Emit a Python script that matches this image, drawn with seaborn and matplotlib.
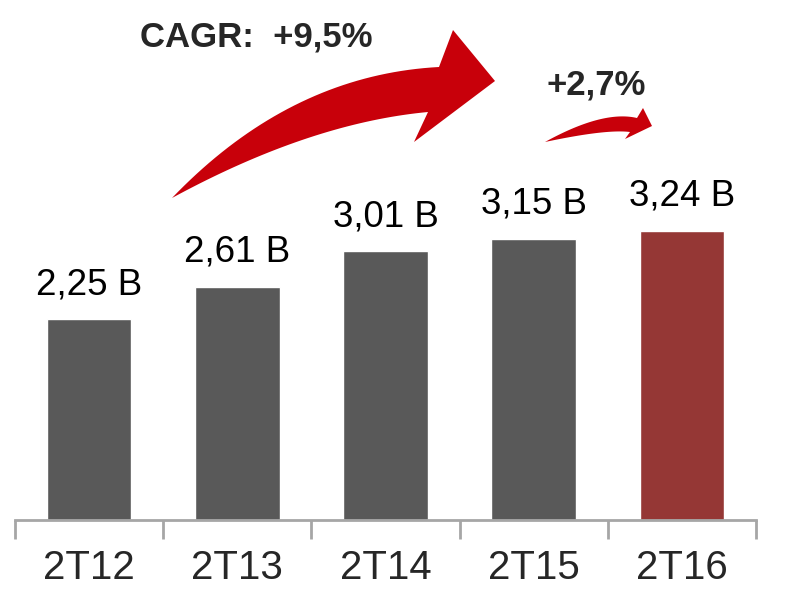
import numpy as np
import pandas as pd
import seaborn as sns
import matplotlib.pyplot as plt
from matplotlib.patches import Polygon
from matplotlib.ticker import FixedLocator

periods = ['2T12', '2T13', '2T14', '2T15', '2T16']
revenue = [2.25, 2.61, 3.01, 3.15, 3.24]
bar_colors = ['#595959', '#595959', '#595959', '#595959', '#953735']
cagr_text = 'CAGR:  +9,5%'
yoy_text = '+2,7%'

sns.set_style('white')
plt.rcParams['font.family'] = ['Liberation Sans', 'DejaVu Sans']

df = pd.DataFrame({'period': periods, 'value': revenue})

fig = plt.figure(figsize=(7.86, 5.94), dpi=100)
ax = fig.add_axes([15 / 786, 74 / 594, 741 / 786, 520 / 594])
sns.barplot(data=df, x='period', y='value', hue='period', palette=bar_colors,
            width=0.57, legend=False, ax=ax, saturation=1)

ax.set_xlim(-0.5, 4.5)
ax.set_ylim(0, 520 / 89.3)
for s in ['left', 'right', 'top']:
    ax.spines[s].set_visible(False)
ax.spines['bottom'].set_color('#a6a6a6')
ax.spines['bottom'].set_linewidth(2)
ax.set_yticks([])
ax.set_xlabel('')
ax.set_ylabel('')
ax.xaxis.set_minor_locator(FixedLocator(np.arange(-0.5, 5, 1)))
ax.tick_params(axis='x', which='minor', length=14, width=2, color='#a6a6a6',
               direction='out', bottom=True)
ax.tick_params(axis='x', which='major', length=0, pad=21)
for lab in ax.get_xticklabels():
    lab.set_fontsize(29)

for i, v in enumerate(revenue):
    ax.text(i, v + 0.28, f'{v:.2f} B'.replace('.', ','), ha='center',
            va='baseline', fontsize=26.5, color='black')

# overlay in pixel coordinates for the growth arrows
ov = fig.add_axes([0, 0, 1, 1], facecolor='none')
ov.set_xlim(0, 786)
ov.set_ylim(594, 0)
ov.axis('off')


def qbez(p0, c, p2, n=40):
    t = np.linspace(0, 1, n)[:, None]
    p0, c, p2 = map(np.array, (p0, c, p2))
    return (1 - t) ** 2 * p0 + 2 * t * (1 - t) * c + t ** 2 * p2


def curved_arrow(tail, up_c, up_end, low_c, low_end, head, color):
    upper = qbez(tail, up_c, up_end)
    lower = qbez(tail, low_c, low_end)[::-1]
    pts = np.vstack([upper, np.array(head), lower])
    ov.add_patch(Polygon(pts, closed=True, facecolor=color, edgecolor='none'))


curved_arrow((172, 198), (290, 75), (439, 67), (310, 123), (428, 112),
             [(453, 30), (495, 81), (414, 142)], '#c8000a')
curved_arrow((545, 142), (603, 110), (637, 118), (606, 129), (630, 132),
             [(643, 108), (652, 126), (625, 139)], '#c8000a')

fig.text(140 / 786, 1 - 46 / 594, cagr_text, fontsize=25, fontweight='bold',
         va='baseline', ha='left')
fig.text(546 / 786, 1 - 95 / 594, yoy_text, fontsize=25, fontweight='bold',
         va='baseline', ha='left')

fig.savefig('out.png', dpi=100)
